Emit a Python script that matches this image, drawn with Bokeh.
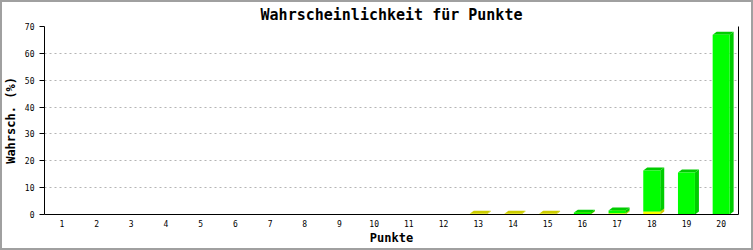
from bokeh.plotting import figure
from bokeh.models import LinearAxis, FixedTicker
from bokeh.embed import file_html
from bokeh.resources import INLINE

# ---- data ----
punkte = list(range(1, 21))
yellow = [0, 0, 0, 0, 0, 0, 0, 0, 0, 0, 0, 0, 0.3, 0.3, 0.3, 0.2, 0.5, 1.1, 0, 0]
green = [0, 0, 0, 0, 0, 0, 0, 0, 0, 0, 0, 0, 0, 0, 0, 0.5, 1.0, 15.3, 15.6, 66.9]
y_ticks = [0, 10, 20, 30, 40, 50, 60, 70]

# ---- layout ----
W, H = 753, 250
ML, MR, MT, MB = 43, 15, 25, 36
FW = W - ML - MR
FH = H - MT - MB
XMIN, XMAX = 0.5, 20.5
YMIN, YMAX = 0, 70
pxx = FW / (XMAX - XMIN)
pxy = FH / (YMAX - YMIN)
DX = 4 / pxx
DY = 3 / pxy
BW = 17 / pxx

p = figure(width=W, height=H, x_range=(XMIN, XMAX), y_range=(YMIN, YMAX),
           output_backend="svg", toolbar_location=None,
           min_border_left=ML, min_border_right=MR, min_border_top=MT, min_border_bottom=MB,
           title="Wahrscheinlichkeit für Punkte")
p.styles = {"background-color": "white", "box-shadow": "inset 0 0 0 2px #a0a0a0"}
p.outline_line_color = None
p.background_fill_color = "white"
p.border_fill_color = None

p.title.align = "center"
p.title.text_font = "DejaVu Sans Mono"
p.title.text_font_style = "bold"
p.title.text_font_size = "15px"
p.title.text_color = "black"
p.title.offset = 0
p.title.standoff = 6

p.xgrid.visible = False
p.ygrid.ticker = FixedTicker(ticks=y_ticks)
p.ygrid.grid_line_color = "#b4b4b4"
p.ygrid.grid_line_dash = "2 3"

xa = p.xaxis[0]
xa.ticker = FixedTicker(ticks=punkte)
xa.major_tick_out = 0
xa.major_tick_in = 0
xa.minor_tick_out = 0
xa.minor_tick_in = 0
xa.major_label_standoff = 5
xa.major_label_text_font = "DejaVu Sans Mono"
xa.major_label_text_font_size = "8px"
xa.major_label_text_color = "black"
xa.axis_label = "Punkte"
xa.axis_label_text_font = "DejaVu Sans Mono"
xa.axis_label_text_font_style = "bold"
xa.axis_label_text_font_size = "12px"
xa.axis_label_text_color = "black"
xa.axis_label_standoff = 1
xa.axis_line_color = "black"

ya = p.yaxis[0]
ya.ticker = FixedTicker(ticks=y_ticks)
ya.major_tick_out = 5
ya.major_tick_in = 0
ya.minor_tick_out = 0
ya.minor_tick_in = 0
ya.major_label_standoff = 5
ya.major_label_text_font = "DejaVu Sans Mono"
ya.major_label_text_font_size = "8px"
ya.major_label_text_color = "black"
ya.axis_label = "Wahrsch. (%)"
ya.axis_label_text_font = "DejaVu Sans Mono"
ya.axis_label_text_font_style = "bold"
ya.axis_label_text_font_size = "12px"
ya.axis_label_text_color = "black"
ya.axis_label_standoff = 4
ya.axis_line_color = "black"

ra = LinearAxis(ticker=FixedTicker(ticks=[]), major_label_text_font_size="0px",
                major_label_standoff=0,
                major_tick_out=0, major_tick_in=0, minor_tick_out=0, minor_tick_in=0,
                axis_line_color="black")
p.add_layout(ra, "right")


def bar3d(bottoms, tops, front, dark):
    fx, fb, ft = [], [], []
    sx, sy, tx, ty = [], [], [], []
    for x, b, t in zip(punkte, bottoms, tops):
        if t - b <= 0:
            continue
        l, r = x - BW / 2, x + BW / 2
        fx.append(x); fb.append(b); ft.append(t)
        sx.append([r, r + DX, r + DX, r])
        sy.append([b, b + DY, t + DY, t])
        tx.append([l, r, r + DX, l + DX])
        ty.append([t, t, t + DY, t + DY])
    p.patches(sx, sy, fill_color=dark, line_color=None)
    p.patches(tx, ty, fill_color=dark, line_color=None)
    p.vbar(x=fx, bottom=fb, top=ft, width=BW, fill_color=front, line_color=None)


ybot = [0] * 20
ytop = yellow
gtop = [a + b for a, b in zip(yellow, green)]
bar3d(ybot, ytop, "#ffff00", "#cccc00")
bar3d(ytop, gtop, "#00ff00", "#00cc00")

open("out.html", "w").write(file_html(p, INLINE))
